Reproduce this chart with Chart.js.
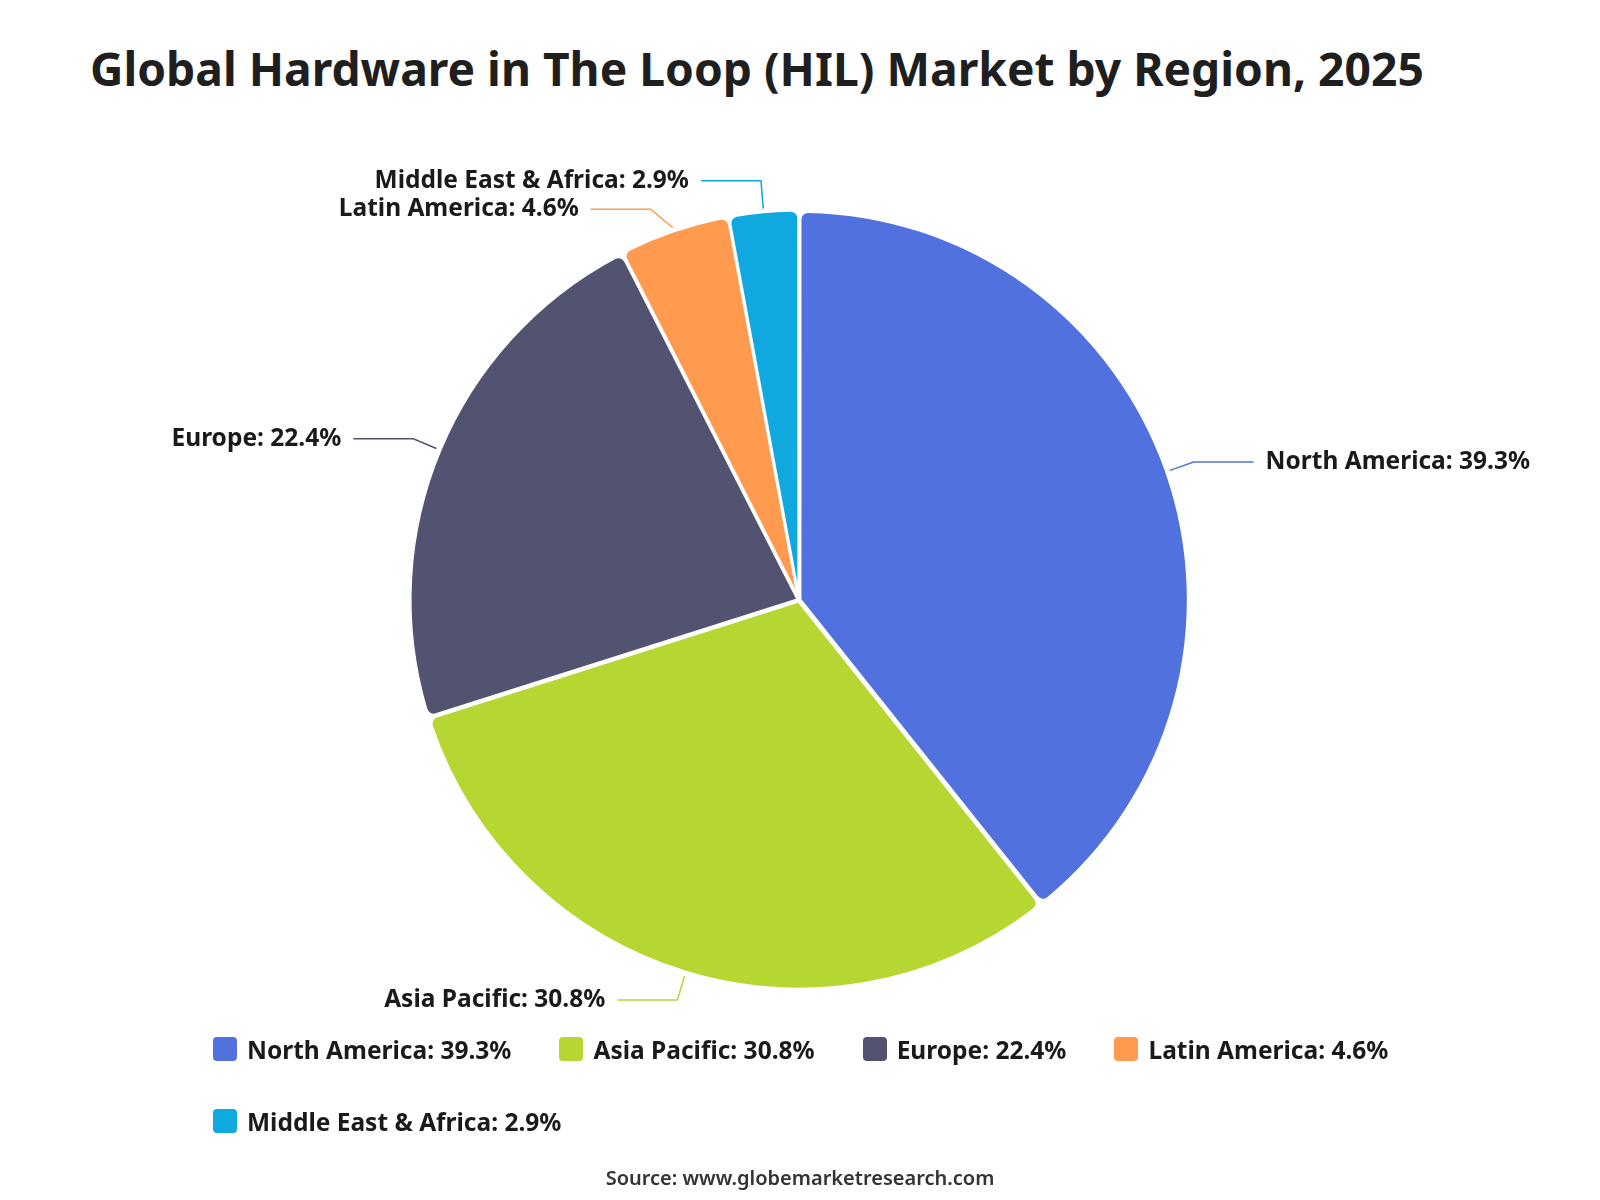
<!DOCTYPE html>
<html>
<head>
<meta charset="utf-8">
<script src="https://cdn.jsdelivr.net/npm/chart.js@4.4.1/dist/chart.umd.min.js"></script>
<style>
  body { margin: 0; background: #fff; font-family: "Noto Sans", sans-serif; }
  #wrap { position: relative; width: 1600px; height: 1200px; overflow: hidden; }
  #title { position: absolute; left: 90px; top: 37px; font-size: 46.2px; font-weight: 700; color: #1f1f1f; white-space: nowrap; }
  #chart { position: absolute; left: 0; top: 0; }
  #legend { position: absolute; left: 213px; top: 1037px; width: 1300px; display: flex; flex-wrap: wrap; column-gap: 48px; row-gap: 48px; }
  .item { display: flex; align-items: center; height: 24px; font-size: 24.5px; font-weight: 700; color: #1a1a1a; white-space: nowrap; }
  .box { width: 24px; height: 24px; border-radius: 4px; margin-right: 10px; }
  #source { position: absolute; left: 0; width: 1600px; top: 1164px; text-align: center; font-size: 20px; font-weight: 600; color: #333; }
</style>
</head>
<body>
<div id="wrap">
  <div id="title">Global Hardware in The Loop (HIL) Market by Region, 2025</div>
  <canvas id="chart" width="1600" height="1200"></canvas>
  <div id="legend"></div>
  <div id="source">Source: www.globemarketresearch.com</div>
</div>
<script>
var regions = ['North America', 'Asia Pacific', 'Europe', 'Latin America', 'Middle East & Africa'];
var shares = [39.3, 30.8, 22.4, 4.6, 2.9];
var colors = ['#5171DE', '#B6D732', '#525370', '#FF9A4F', '#10A9DF'];

function labelText(i) {
    return regions[i] + ': ' + shares[i].toFixed(1) + '%';
}

// legend under the pie
var legendEl = document.getElementById('legend');
regions.forEach(function (r, i) {
    var item = document.createElement('div');
    item.className = 'item';
    var box = document.createElement('span');
    box.className = 'box';
    box.style.background = colors[i];
    item.appendChild(box);
    item.appendChild(document.createTextNode(labelText(i)));
    legendEl.appendChild(item);
});

// labels outside the slices with elbow lines
var outsideLabels = {
    id: 'outsideLabels',
    afterDatasetsDraw: function (chart) {
        var ctx = chart.ctx;
        var arcs = chart.getDatasetMeta(0).data;
        var items = [];
        var cx, cy, R;
        arcs.forEach(function (arc, i) {
            var p = arc.getProps(['x', 'y', 'startAngle', 'endAngle', 'outerRadius'], true);
            var mid = (p.startAngle + p.endAngle) / 2;
            var cos = Math.cos(mid), sin = Math.sin(mid);
            cx = p.x; cy = p.y; R = p.outerRadius + 30;
            items.push({
                i: i,
                x0: p.x + cos * (p.outerRadius + 5),
                y0: p.y + sin * (p.outerRadius + 5),
                x1: p.x + cos * R,
                y1: p.y + sin * R,
                right: cos >= 0
            });
        });
        // spread overlapping labels around their middle
        var gap = 28.5;
        [true, false].forEach(function (side) {
            var list = items.filter(function (it) { return it.right === side; });
            list.sort(function (a, b) { return a.y1 - b.y1; });
            for (var k = 1; k < list.length; k++) {
                var a = list[k - 1], b = list[k];
                if (b.y1 - a.y1 < gap) {
                    var m = (a.y1 + b.y1) / 2 + 1;
                    [[a, m - gap / 2], [b, m + gap / 2]].forEach(function (pair) {
                        var it = pair[0], ny = pair[1];
                        var oldDy = Math.abs(it.y1 - cy), newDy = Math.abs(ny - cy);
                        if (newDy < oldDy) {
                            var dx = Math.sqrt(R * R - newDy * newDy);
                            it.x1 = it.right ? cx + dx : cx - dx;
                        }
                        it.y1 = ny;
                    });
                }
            }
        });
        ctx.save();
        ctx.font = '700 24.5px "Noto Sans"';
        ctx.textBaseline = 'middle';
        items.forEach(function (it) {
            var x2 = it.right ? it.x1 + 60 : it.x1 - 60;
            ctx.strokeStyle = colors[it.i];
            ctx.lineWidth = 1.5;
            ctx.beginPath();
            ctx.moveTo(it.x0, it.y0);
            ctx.lineTo(it.x1, it.y1);
            ctx.lineTo(x2, it.y1);
            ctx.stroke();
            ctx.fillStyle = '#1a1a1a';
            ctx.textAlign = it.right ? 'left' : 'right';
            ctx.fillText(labelText(it.i), it.right ? x2 + 12 : x2 - 12, it.y1);
        });
        ctx.restore();
    }
};

new Chart(document.getElementById('chart'), {
    type: 'pie',
    data: {
        labels: regions,
        datasets: [{
            data: shares,
            backgroundColor: colors,
            borderColor: '#ffffff',
            borderWidth: 3,
            borderRadius: 8,
            offset: 4
        }]
    },
    options: {
        responsive: false,
        animation: false,
        radius: 388,
        layout: { padding: { left: 0, right: 2, top: 209, bottom: 209 } },
        plugins: {
            legend: { display: false },
            title: { display: false },
            tooltip: { enabled: false }
        }
    },
    plugins: [outsideLabels]
});
</script>
</body>
</html>
